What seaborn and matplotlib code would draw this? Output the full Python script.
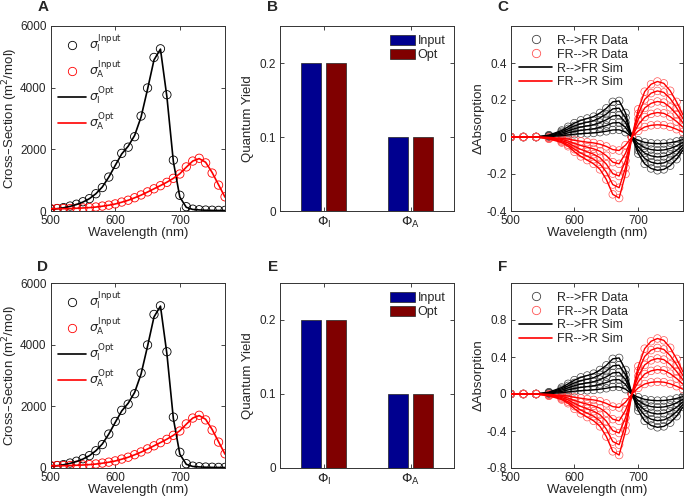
import numpy as np
import pandas as pd
import matplotlib
matplotlib.use("Agg")
import matplotlib.pyplot as plt
from matplotlib.lines import Line2D
from matplotlib.ticker import FormatStrFormatter
import seaborn as sns

sns.set_style("ticks")
plt.rcParams['font.family'] = ['Liberation Sans', 'DejaVu Sans']
plt.rcParams['mathtext.fontset'] = 'dejavusans'

# ---- panels A / D : cross-sections ----
wl_sigma = [500, 510, 520, 530, 540, 550, 560, 570, 580, 590, 600, 610, 620, 630,
            640, 650, 660, 670, 680, 690, 700, 710, 720, 730, 740, 750, 760, 770]
sigma_I_input = [60, 80, 110, 160, 220, 300, 400, 560, 760, 1100, 1510, 1870, 2070, 2410,
                 3080, 3990, 4980, 5260, 3770, 1650, 510, 140, 60, 40, 30, 25, 20, 20]
sigma_I_opt = [50, 75, 105, 150, 210, 290, 400, 560, 780, 1100, 1480, 1850, 2100, 2450,
               3050, 3950, 4900, 5250, 3700, 1600, 450, 120, 50, 35, 25, 20, 18, 15]
sigma_A_input = [80, 80, 80, 80, 90, 100, 110, 130, 160, 190, 230, 290, 350, 430,
                 520, 620, 720, 820, 930, 1060, 1200, 1430, 1620, 1710, 1560, 1230, 840, 460]
sigma_A_opt = [70, 72, 75, 80, 88, 98, 110, 128, 155, 188, 228, 285, 348, 428,
               515, 615, 720, 825, 935, 1060, 1210, 1420, 1620, 1700, 1580, 1250, 850, 450]

# ---- panels B / E : quantum yields ----
qy_params = [r'$\Phi_\mathrm{I}$', r'$\Phi_\mathrm{I}$', r'$\Phi_\mathrm{A}$', r'$\Phi_\mathrm{A}$']
qy_source = ['Input', 'Opt', 'Input', 'Opt']
qy_values = [0.2, 0.2, 0.1, 0.1]

# ---- panels C / F : difference spectra ----
wl_diff = [500, 520, 540, 560, 580, 590, 600, 610, 620, 630, 640, 650,
           660, 670, 680, 690, 700, 710, 720, 730, 740, 750, 760, 770]

C_r_to_fr = [
    [0, 0, 0, 0.002, 0.007, 0.011, 0.015, 0.018, 0.02, 0.022, 0.026, 0.031, 0.038, 0.039, 0.026, 0.0, -0.018, -0.029, -0.034, -0.036, -0.035, -0.031, -0.024, -0.014],
    [0, 0, 0, 0.004, 0.014, 0.022, 0.03, 0.036, 0.04, 0.044, 0.052, 0.062, 0.076, 0.078, 0.052, 0.0, -0.036, -0.058, -0.068, -0.072, -0.07, -0.062, -0.048, -0.028],
    [0, 0, 0, 0.006, 0.021, 0.033, 0.045, 0.054, 0.06, 0.066, 0.078, 0.093, 0.114, 0.117, 0.078, 0.0, -0.054, -0.087, -0.102, -0.108, -0.105, -0.093, -0.072, -0.042],
    [0, 0, 0, 0.008, 0.028, 0.044, 0.06, 0.072, 0.08, 0.088, 0.104, 0.124, 0.152, 0.156, 0.104, 0.0, -0.072, -0.116, -0.136, -0.144, -0.14, -0.124, -0.096, -0.056],
    [0, 0, 0, 0.01, 0.035, 0.055, 0.075, 0.09, 0.10, 0.11, 0.13, 0.155, 0.19, 0.195, 0.13, 0.0, -0.09, -0.145, -0.17, -0.18, -0.175, -0.155, -0.12, -0.07],
]
C_fr_to_r = [
    [0, 0, 0, -0.002, -0.007, -0.011, -0.018, -0.023, -0.028, -0.032, -0.039, -0.051, -0.068, -0.073, -0.044, 0.0, 0.033, 0.054, 0.063, 0.066, 0.064, 0.055, 0.042, 0.026],
    [0, 0, 0, -0.004, -0.013, -0.022, -0.035, -0.046, -0.055, -0.064, -0.077, -0.101, -0.136, -0.145, -0.088, 0.0, 0.066, 0.108, 0.125, 0.132, 0.128, 0.11, 0.084, 0.053],
    [0, 0, 0, -0.006, -0.019, -0.032, -0.051, -0.067, -0.08, -0.093, -0.112, -0.147, -0.198, -0.211, -0.128, 0.0, 0.096, 0.157, 0.182, 0.192, 0.186, 0.16, 0.122, 0.077],
    [0, 0, 0, -0.008, -0.025, -0.042, -0.066, -0.087, -0.104, -0.12, -0.145, -0.19, -0.257, -0.274, -0.166, 0.0, 0.125, 0.203, 0.237, 0.249, 0.241, 0.208, 0.158, 0.1],
    [0, 0, 0, -0.01, -0.03, -0.05, -0.08, -0.105, -0.125, -0.145, -0.175, -0.23, -0.31, -0.33, -0.2, 0.0, 0.15, 0.245, 0.285, 0.30, 0.29, 0.25, 0.19, 0.12],
]
F_r_to_fr = [
    [0, 0, 0, 0.004, 0.014, 0.022, 0.03, 0.036, 0.04, 0.044, 0.052, 0.062, 0.076, 0.078, 0.052, 0.0, -0.036, -0.058, -0.068, -0.072, -0.07, -0.062, -0.048, -0.028],
    [0, 0, 0, 0.008, 0.028, 0.044, 0.06, 0.072, 0.08, 0.088, 0.104, 0.124, 0.152, 0.156, 0.104, 0.0, -0.072, -0.116, -0.136, -0.144, -0.14, -0.124, -0.096, -0.056],
    [0, 0, 0, 0.012, 0.042, 0.066, 0.09, 0.108, 0.12, 0.132, 0.156, 0.186, 0.228, 0.234, 0.156, 0.0, -0.108, -0.174, -0.204, -0.216, -0.21, -0.186, -0.144, -0.084],
    [0, 0, 0, 0.016, 0.056, 0.088, 0.12, 0.144, 0.16, 0.176, 0.208, 0.248, 0.304, 0.312, 0.208, 0.0, -0.144, -0.232, -0.272, -0.288, -0.28, -0.248, -0.192, -0.112],
    [0, 0, 0, 0.02, 0.07, 0.11, 0.15, 0.18, 0.20, 0.22, 0.26, 0.31, 0.38, 0.39, 0.26, 0.0, -0.18, -0.29, -0.34, -0.36, -0.35, -0.31, -0.24, -0.14],
]
F_fr_to_r = [
    [0, 0, 0, -0.004, -0.014, -0.022, -0.036, -0.046, -0.056, -0.064, -0.078, -0.102, -0.136, -0.146, -0.088, 0.0, 0.066, 0.108, 0.126, 0.132, 0.128, 0.11, 0.084, 0.052],
    [0, 0, 0, -0.008, -0.026, -0.044, -0.07, -0.092, -0.11, -0.128, -0.154, -0.202, -0.272, -0.29, -0.176, 0.0, 0.132, 0.216, 0.25, 0.264, 0.256, 0.22, 0.168, 0.106],
    [0, 0, 0, -0.012, -0.038, -0.064, -0.102, -0.134, -0.16, -0.186, -0.224, -0.294, -0.396, -0.422, -0.256, 0.0, 0.192, 0.314, 0.364, 0.384, 0.372, 0.32, 0.244, 0.154],
    [0, 0, 0, -0.016, -0.05, -0.084, -0.132, -0.174, -0.208, -0.24, -0.29, -0.38, -0.514, -0.548, -0.332, 0.0, 0.25, 0.406, 0.474, 0.498, 0.482, 0.416, 0.316, 0.2],
    [0, 0, 0, -0.02, -0.06, -0.10, -0.16, -0.21, -0.25, -0.29, -0.35, -0.46, -0.62, -0.66, -0.40, 0.0, 0.30, 0.49, 0.57, 0.60, 0.58, 0.50, 0.38, 0.24],
]

TICK_FS = 8.5
LABEL_FS = 9.5
LEG_FS = 9


def style_axes(ax):
    ax.tick_params(direction='in', top=True, right=True, length=3, width=0.6,
                   labelsize=TICK_FS)
    ax.tick_params(axis='y', pad=3)
    ax.tick_params(axis='x', pad=3)
    for s in ax.spines.values():
        s.set_linewidth(0.7)
        s.set_color('#333333')
    ax.yaxis.set_major_formatter(FormatStrFormatter('%g'))


def draw_sigma(ax):
    sns.scatterplot(x=wl_sigma, y=sigma_I_input, ax=ax, marker='o', s=36,
                    facecolor='none', edgecolor='k', linewidth=0.6, zorder=2)
    sns.scatterplot(x=wl_sigma, y=sigma_A_input, ax=ax, marker='o', s=36,
                    facecolor='none', edgecolor='r', linewidth=0.6, zorder=2)
    sns.lineplot(x=wl_sigma, y=sigma_I_opt, ax=ax, color='k', lw=1.2, estimator=None, zorder=3)
    sns.lineplot(x=wl_sigma, y=sigma_A_opt, ax=ax, color='r', lw=1.2, estimator=None, zorder=3)
    ax.set_xlim(500, 770)
    ax.set_ylim(0, 6000)
    ax.set_xticks([500, 600, 700])
    ax.set_yticks([0, 2000, 4000, 6000])
    ax.set_xlabel('Wavelength (nm)', fontsize=LABEL_FS, labelpad=0)
    ax.set_ylabel('Cross\u2013Section (m$^{2}$/mol)', fontsize=LABEL_FS, labelpad=0)
    handles = [
        Line2D([], [], ls='none', marker='o', mfc='none', mec='k', mew=0.6, ms=6),
        Line2D([], [], ls='none', marker='o', mfc='none', mec='r', mew=0.6, ms=6),
        Line2D([], [], color='k', lw=1.2),
        Line2D([], [], color='r', lw=1.2),
    ]
    labels = [r'$\sigma_\mathrm{I}^\mathrm{Input}$', r'$\sigma_\mathrm{A}^\mathrm{Input}$',
              r'$\sigma_\mathrm{I}^\mathrm{Opt}$', r'$\sigma_\mathrm{A}^\mathrm{Opt}$']
    ax.legend(handles, labels, loc='upper left', frameon=False, fontsize=LEG_FS,
              handlelength=2.2, handletextpad=0.3, labelspacing=0.35,
              borderaxespad=0.2)
    style_axes(ax)


def draw_qy(ax):
    df = pd.DataFrame({'param': qy_params, 'source': qy_source, 'value': qy_values})
    sns.barplot(data=df, x='param', y='value', hue='source', ax=ax,
                palette=['#00008F', '#800000'], width=0.57, gap=0.2,
                edgecolor='#222222', linewidth=0.5, saturation=1, errorbar=None)
    ax.set_xlim(-0.5, 1.5)
    ax.set_ylim(0, 0.25)
    ax.set_yticks([0, 0.1, 0.2])
    ax.set_xlabel('')
    ax.set_ylabel('Quantum Yield', fontsize=LABEL_FS, labelpad=4)
    ax.legend(loc='upper right', frameon=False, fontsize=LEG_FS, handlelength=2.0,
              handleheight=0.9, handletextpad=0.2, labelspacing=0.1, borderaxespad=0.3)
    style_axes(ax)
    ax.tick_params(axis='x', labelsize=TICK_FS + 1)


def draw_diff(ax, r_to_fr, fr_to_r, ylim, yticks):
    for curve in r_to_fr:
        sns.scatterplot(x=wl_diff, y=curve, ax=ax, marker='o', s=30, facecolor='none',
                        edgecolor='#444444', linewidth=0.5, zorder=2)
    for curve in fr_to_r:
        sns.scatterplot(x=wl_diff, y=curve, ax=ax, marker='o', s=30, facecolor='none',
                        edgecolor='#ff5555', linewidth=0.5, zorder=2)
    for curve in r_to_fr:
        sns.lineplot(x=wl_diff, y=curve, ax=ax, color='k', lw=1.0, estimator=None, zorder=3)
    for curve in fr_to_r:
        sns.lineplot(x=wl_diff, y=curve, ax=ax, color='r', lw=1.0, estimator=None, zorder=3)
    ax.set_xlim(500, 770)
    ax.set_ylim(*ylim)
    ax.set_xticks([500, 600, 700])
    ax.set_yticks(yticks)
    ax.set_xlabel('Wavelength (nm)', fontsize=LABEL_FS, labelpad=0)
    ax.set_ylabel('\u0394Absorption', fontsize=LABEL_FS, labelpad=1)
    handles = [
        Line2D([], [], ls='none', marker='o', mfc='none', mec='#444444', mew=0.6, ms=6),
        Line2D([], [], ls='none', marker='o', mfc='none', mec='#ff5555', mew=0.6, ms=6),
        Line2D([], [], color='k', lw=1.2),
        Line2D([], [], color='r', lw=1.2),
    ]
    labels = ['R-->FR Data', 'FR-->R Data', 'R-->FR Sim', 'FR-->R Sim']
    ax.legend(handles, labels, loc='upper left', frameon=False, fontsize=LEG_FS,
              handlelength=2.6, handletextpad=0.4, labelspacing=0.15,
              borderaxespad=0.3)
    style_axes(ax)


fig = plt.figure(figsize=(6.85, 5.0), dpi=100)
cols = [0.074, 0.409, 0.7455]
widths = [0.2545, 0.254, 0.2515]
rows = [0.578, 0.064]
h = 0.37

axA = fig.add_axes([cols[0], rows[0], widths[0], h])
axB = fig.add_axes([cols[1], rows[0], widths[1], h])
axC = fig.add_axes([cols[2], rows[0], widths[2], h])
axD = fig.add_axes([cols[0], rows[1], widths[0], h])
axE = fig.add_axes([cols[1], rows[1], widths[1], h])
axF = fig.add_axes([cols[2], rows[1], widths[2], h])

draw_sigma(axA)
draw_qy(axB)
draw_diff(axC, C_r_to_fr, C_fr_to_r, (-0.4, 0.6), [-0.4, -0.2, 0, 0.2, 0.4])
draw_sigma(axD)
draw_qy(axE)
draw_diff(axF, F_r_to_fr, F_fr_to_r, (-0.8, 1.2), [-0.8, -0.4, 0, 0.4, 0.8])

for letter, x, y in [('A', 43, 7), ('B', 273, 7), ('C', 503, 7),
                     ('D', 43, 267), ('E', 273, 267), ('F', 503, 267)]:
    fig.text(x / 685, 1 - y / 500, letter, fontsize=11, fontweight='bold',
             ha='center', va='center')

fig.savefig('out.png', dpi=100)
